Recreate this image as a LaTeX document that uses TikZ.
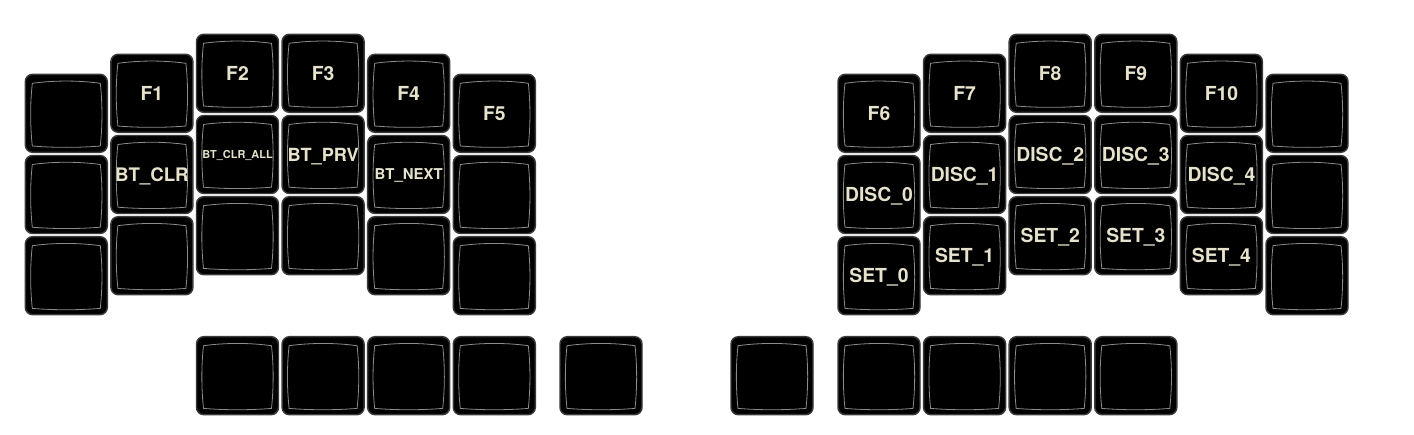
\documentclass[tikz,border=0pt]{standalone}
\usepackage{fontspec}
\setmainfont{TeX Gyre Heros}
\definecolor{keyborder}{HTML}{3A3A3A}
\definecolor{innerline}{HTML}{8C8C8C}
\definecolor{legend}{HTML}{E6E2CC}
\newcommand\lbl[2][14.5]{\fontsize{#1pt}{#1pt}\selectfont\raisebox{-0.359em}[0pt][0pt]{#2}}
\tikzset{
  keycap/.style={draw=keyborder, fill=black, line width=1.1pt, rounded corners=5.5pt,
    minimum width=61.5pt, minimum height=58.5pt, inner sep=0pt,
    font=\bfseries, text=legend},
  keyinner/.style={draw=innerline, line width=0.6pt, sharp corners},
}
\newcommand\keycap[4]{%
  \draw[keyinner] ({#2+41-34},{#3+39-30}) .. controls ({#2+41-12},{#3+39-33}) and ({#2+41+12},{#3+39-33}) .. ({#2+41+34},{#3+39-30})
        .. controls ({#2+41+36.2},{#3+39-10}) and ({#2+41+36.2},{#3+39+12}) .. ({#2+41+34},{#3+39+32.7})
        .. controls ({#2+41+12},{#3+39+34.5}) and ({#2+41-12},{#3+39+34.5}) .. ({#2+41-34},{#3+39+32.7})
        .. controls ({#2+41-36.2},{#3+39+12}) and ({#2+41-36.2},{#3+39-10}) .. cycle;
}
\newcommand\keynode[4]{\node[keycap] (#1) at ({#2+41},{#3+39}) {};}
\newcommand\keytext[4]{\node[font=\bfseries, text=legend, inner sep=0pt] (#1t) at (#1.center) {#4};}
\newcommand\key[4]{\keynode{#1}{#2}{#3}{#4}\keycap{#1}{#2}{#3}{#4}\keytext{#1}{#2}{#3}{#4}}
\begin{document}
\begin{tikzpicture}[x=0.75pt,y=-0.75pt]
\useasboundingbox[fill=white] (0,0) rectangle (1414,435);
% left half
\key{L00}{25.3}{74.3}{}
\key{L01}{25.3}{155.5}{}
\key{L02}{25.3}{236.7}{}
\key{L10}{110.9}{54.3}{\lbl{F1}}
\key{L11}{110.9}{135.5}{\lbl[14]{BT\_CLR}}
\key{L12}{110.9}{216.7}{}
\key{L20}{196.5}{34.3}{\lbl{F2}}
\key{L21}{196.5}{115.5}{\lbl[8.2]{BT\_CLR\_ALL}}
\key{L22}{196.5}{196.7}{}
\key{L30}{282.1}{34.3}{\lbl{F3}}
\key{L31}{282.1}{115.5}{\lbl[13.6]{BT\_PRV}}
\key{L32}{282.1}{196.7}{}
\key{L40}{367.7}{54.3}{\lbl{F4}}
\key{L41}{367.7}{135.5}{\lbl[11.2]{BT\_NEXT}}
\key{L42}{367.7}{216.7}{}
\key{L50}{453.3}{74.3}{\lbl{F5}}
\key{L51}{453.3}{155.5}{}
\key{L52}{453.3}{236.7}{}
% right half
\key{R00}{838}{74.3}{\lbl{F6}}
\key{R01}{838}{155.5}{\lbl{DISC\_0}}
\key{R02}{838}{236.7}{\lbl{SET\_0}}
\key{R10}{923.6}{54.3}{\lbl{F7}}
\key{R11}{923.6}{135.5}{\lbl{DISC\_1}}
\key{R12}{923.6}{216.7}{\lbl{SET\_1}}
\key{R20}{1009.2}{34.3}{\lbl{F8}}
\key{R21}{1009.2}{115.5}{\lbl{DISC\_2}}
\key{R22}{1009.2}{196.7}{\lbl{SET\_2}}
\key{R30}{1094.8}{34.3}{\lbl{F9}}
\key{R31}{1094.8}{115.5}{\lbl{DISC\_3}}
\key{R32}{1094.8}{196.7}{\lbl{SET\_3}}
\key{R40}{1180.4}{54.3}{\lbl{F10}}
\key{R41}{1180.4}{135.5}{\lbl{DISC\_4}}
\key{R42}{1180.4}{216.7}{\lbl{SET\_4}}
\key{R50}{1266}{74.3}{}
\key{R51}{1266}{155.5}{}
\key{R52}{1266}{236.7}{}
% thumb row
\key{LT0}{196.5}{336.7}{}
\key{LT1}{282.1}{336.7}{}
\key{LT2}{367.7}{336.7}{}
\key{LT3}{453.3}{336.7}{}
\key{LT4}{560}{336.7}{}
\key{RT0}{731}{336.7}{}
\key{RT1}{838}{336.7}{}
\key{RT2}{923.6}{336.7}{}
\key{RT3}{1009.2}{336.7}{}
\key{RT4}{1094.8}{336.7}{}
\end{tikzpicture}
\end{document}
